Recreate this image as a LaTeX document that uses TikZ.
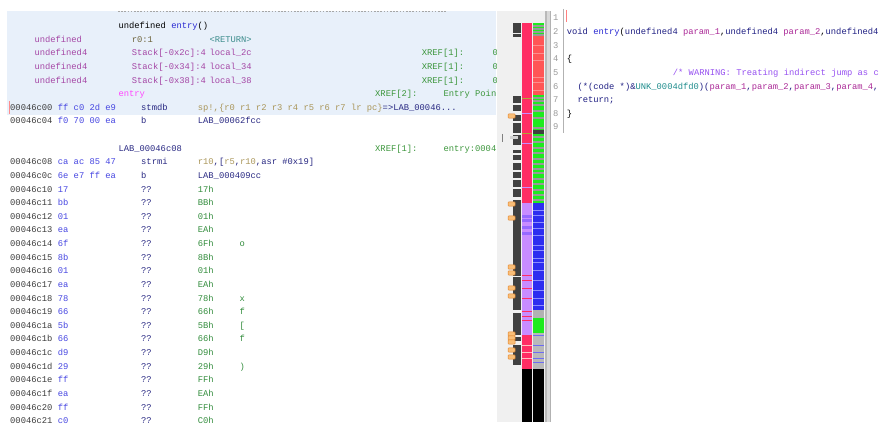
\documentclass[tikz,border=0pt]{standalone}
\usepackage{fontspec}
\newfontfamily\lst{Liberation Mono}[WordSpace={1,0,0}]
\usetikzlibrary{positioning}

\definecolor{hdrbg}{RGB}{232,240,250}
\definecolor{addrc}{RGB}{60,60,60}
\definecolor{bytec}{RGB}{70,70,225}
\definecolor{mnemc}{RGB}{40,40,130}
\definecolor{regc}{RGB}{170,150,90}
\definecolor{datac}{RGB}{50,140,60}
\definecolor{typec}{RGB}{165,70,165}
\definecolor{storc}{RGB}{110,100,60}
\definecolor{retc}{RGB}{60,140,140}
\definecolor{xrefc}{RGB}{60,150,60}
\definecolor{funcc}{RGB}{255,70,255}
\definecolor{namec}{RGB}{40,40,210}
\definecolor{panelbg}{RGB}{240,240,240}
\definecolor{markc}{RGB}{64,64,64}
\definecolor{pinkc}{RGB}{255,45,100}
\definecolor{lavc}{RGB}{200,140,255}
\definecolor{redc}{RGB}{255,85,85}
\definecolor{grnc}{RGB}{30,235,30}
\definecolor{bluc}{RGB}{45,45,240}
\definecolor{commc}{RGB}{150,80,240}
\definecolor{unkc}{RGB}{30,140,140}
\definecolor{parc}{RGB}{170,40,150}
\definecolor{kwc}{RGB}{30,30,130}
\definecolor{bmfill}{RGB}{250,190,120}
\definecolor{bmdraw}{RGB}{225,130,40}

\begin{document}
\begin{tikzpicture}[x=1pt, y=-1pt,
    every node/.style = {inner sep=0pt, anchor=base west, font={\lst\fontsize{8.8pt}{10pt}\selectfont}},
    addrtext/.style = {text=addrc},
    bytetext/.style = {text=bytec},
    mnemtext/.style = {text=mnemc},
    datatext/.style = {text=datac},
    typetext/.style = {text=typec},
    xreftext/.style = {text=xrefc},
    lnum/.style     = {text=gray!80},
    bookmark/.style = {fill=bmfill, draw=bmdraw, line width=0.5pt, rounded corners=0.8pt}
  ]
  \useasboundingbox (0,0) rectangle (891,435);

  % listing panel
  \fill[hdrbg] (7,11) rectangle (496,115);
  \draw[gray!70, dash pattern=on 1.6pt off 1.6pt] (118,11.7) -- (447,11.7);
  \draw[red!45, line width=1pt] (9,101.5) -- (9,114);

  \begin{scope}
    \clip (7,0) rectangle (496,423);
    \node (sig)   at (118.3,28.7) {undefined \textcolor{namec}{entry}()};
    \node[typetext] (rtype) at (34.3,42.3) {undefined};
    \node[text=storc] (rstor) at (131.7,42.3) {r0:1};
    \node[text=retc] (rname) at (209.3,42.3) {<RETURN>};
    \foreach \k/\off in {2/2c,3/34,4/38}{
      \node[typetext] (ptype\k) at (34.3,{28.7+13.62*\k}) {undefined4};
      \node[typetext] (pstor\k) at (131.7,{28.7+13.62*\k}) {Stack[-0x\off]:4};
      \node[typetext] (pname\k) at (209.3,{28.7+13.62*\k}) {local\_\off};
      \node[xreftext] (pxref\k) at (421.7,{28.7+13.62*\k}) {XREF[1]:};
      \node[xreftext] (pref\k)  at (492.3,{28.7+13.62*\k}) {0};
    }
    \node[text=funcc] (entrylbl) at (118.3,96.8) {entry};
    \node[xreftext] (entryxref) at (375,96.8) {XREF[2]:};
    \node[xreftext] (entryref)  at (443.3,96.8) {Entry Poin};

    \node[addrtext] (a6) at (10,110.4) {00046c00};
    \node[bytetext] (b6) at (57.7,110.4) {ff c0 2d e9};
    \node[mnemtext] (m6) at (141,110.4) {stmdb};
    \node[mnemtext] (d6) at (197.7,110.4) {\textcolor{regc}{sp!,\{r0 r1 r2 r3 r4 r5 r6 r7 lr pc\}}=>LAB\_00046...};
    \node[addrtext] (a7) at (10,124.0) {00046c04};
    \node[bytetext] (b7) at (57.7,124.0) {f0 70 00 ea};
    \node[mnemtext] (m7) at (141,124.0) {b};
    \node[mnemtext] (d7) at (197.7,124.0) {LAB\_00062fcc};

    \node[mnemtext] (lab) at (118.3,151.3) {LAB\_00046c08};
    \node[xreftext] (labxref) at (375,151.3) {XREF[1]:};
    \node[xreftext] (labref)  at (443.3,151.3) {entry:0004};

    \node[addrtext] (a10) at (10,164.9) {00046c08};
    \node[bytetext] (b10) at (57.7,164.9) {ca ac 85 47};
    \node[mnemtext] (m10) at (141,164.9) {strmi};
    \node[mnemtext] (d10) at (197.7,164.9) {\textcolor{regc}{r10},[\textcolor{regc}{r5},\textcolor{regc}{r10},asr \#0x19]};
    \node[addrtext] (a11) at (10,178.5) {00046c0c};
    \node[bytetext] (b11) at (57.7,178.5) {6e e7 ff ea};
    \node[mnemtext] (m11) at (141,178.5) {b};
    \node[mnemtext] (d11) at (197.7,178.5) {LAB\_000409cc};

    \foreach \k/\adr/\byt/\hx/\chr in {12/10/17/17/{},13/11/bb/BB/{},14/12/01/01/{},15/13/ea/EA/{},
        16/14/6f/6F/o,17/15/8b/8B/{},18/16/01/01/{},19/17/ea/EA/{},20/18/78/78/x,21/19/66/66/f,
        22/1a/5b/5B/[,23/1b/66/66/f,24/1c/d9/D9/{},25/1d/29/29/),26/1e/ff/FF/{},27/1f/ea/EA/{},
        28/20/ff/FF/{},29/21/c0/C0/{}}{
      \node[addrtext] (a\k) at (10,{28.7+13.62*\k}) {00046c\adr};
      \node[bytetext] (b\k) at (57.7,{28.7+13.62*\k}) {\byt};
      \node[mnemtext] (m\k) at (141,{28.7+13.62*\k}) {??};
      \node[datatext] (d\k) at (197.7,{28.7+13.62*\k}) {\hx h};
      \node[datatext] (c\k) at (239.3,{28.7+13.62*\k}) {\chr};
    }
  \end{scope}

  % overview strip
  \fill[panelbg] (497,11) rectangle (545,422);
  \fill[gray!55] (545,11) rectangle (547.3,422);
  \fill[gray!30] (547.3,11) rectangle (549.5,422);
  \fill[gray!60] (549.5,11) rectangle (551,422);

  \foreach \ya/\yb in {23/33,34.5/37,96/103,105/111,115/121,123/133,135/145,150/153,155/160,
      163/170,172/178,180/187,189/197,200/276,277/310,313/335,345/365}
    \fill[markc] (513,\ya) rectangle (521,\yb);
  \fill[markc] (510,337) rectangle (521,341);
  \fill[gray!35] (510,136) rectangle (518,139);
  \draw[gray] (502,134) -- (502,142);

  \fill[pinkc] (521.7,23) rectangle (531.7,203);
  \fill[lavc]  (521.7,203) rectangle (531.7,335);
  \fill[pinkc] (521.7,335) rectangle (531.7,369);
  \fill[black] (521.7,369) rectangle (531.7,422);
  \foreach \y in {113,143,187}
    \fill[lavc] (521.7,\y) rectangle (531.7,\y+1.3);
  \foreach \y in {98,133}
    \fill[olive!70] (521.7,\y) rectangle (531.7,\y+1);
  \foreach \y in {215,219,226,232}
    \fill[blue!25!lavc] (521.7,\y) rectangle (531.7,\y+3);
  \foreach \y in {275,280,288,298,311,316,320}
    \fill[pinkc] (521.7,\y) rectangle (531.7,\y+1.4);
  \foreach \y in {345,352,358}
    \fill[pink] (521.7,\y) rectangle (531.7,\y+1);

  \fill[grnc]  (533.3,23) rectangle (544,36);
  \fill[redc]  (533.3,36) rectangle (544,95);
  \fill[grnc]  (533.3,95) rectangle (544,203);
  \fill[bluc]  (533.3,203) rectangle (544,310);
  \fill[gray!60] (533.3,310) rectangle (544,318);
  \fill[grnc]  (533.3,318) rectangle (544,333);
  \fill[gray!55] (533.3,333) rectangle (544,369);
  \fill[black] (533.3,369) rectangle (544,422);
  \foreach \y in {25,28,31,34,97,100,104,110,117,127,136,141,147,152,158,163,168,172,178,183,189,194,199}
    \fill[gray!80] (533.3,\y) rectangle (544,\y+2);
  \fill[markc] (533.3,130) rectangle (544,134);
  \foreach \y in {45,53,60,77,82,90}
    \fill[red!45] (533.3,\y) rectangle (544,\y+1.2);
  \foreach \y in {210,215,222,228,235,245,250,258,262,270,280,290,298,305}
    \fill[blue!45] (533.3,\y) rectangle (544,\y+1.5);
  \foreach \y in {335,345,352,358,362}
    \fill[bluc!70] (533.3,\y) rectangle (544,\y+1);

  \foreach \y in {116,204,218,267,273,288,296,334,338,342,350,357}
    \draw[bookmark] (508,\y-2.2) rectangle (515,\y+2.2);

  % decompiler panel
  \draw[gray!60] (563.5,9) -- (563.5,133);
  \draw[red!50] (566.5,10) -- (566.5,22);
  \foreach \n in {1,...,9}
    \node[lnum] (ln\n) at (553,{21+13.62*(\n-1)}) {\n};
  \begin{scope}
    \clip (564,0) rectangle (882,140);
    \node[text=kwc] (code2) at (566.7,34.6) {void \textcolor{namec}{entry}\textcolor{black}{(}undefined4 \textcolor{parc}{param\_1}\textcolor{black}{,}undefined4 \textcolor{parc}{param\_2}\textcolor{black}{,}undefined4};
    \node (code4) at (566.7,61.9) {\{};
    \node[text=commc] (code5) at (672.7,75.5) {/* WARNING: Treating indirect jump as c};
    \node[text=kwc] (code6) at (577.3,89.1) {(*(code *)\&\textcolor{unkc}{UNK\_0004dfd0})(\textcolor{parc}{param\_1},\textcolor{parc}{param\_2},\textcolor{parc}{param\_3},\textcolor{parc}{param\_4},};
    \node[text=kwc] (code7) at (577.3,102.7) {return;};
    \node (code8) at (566.7,116.3) {\}};
  \end{scope}
\end{tikzpicture}
\end{document}
